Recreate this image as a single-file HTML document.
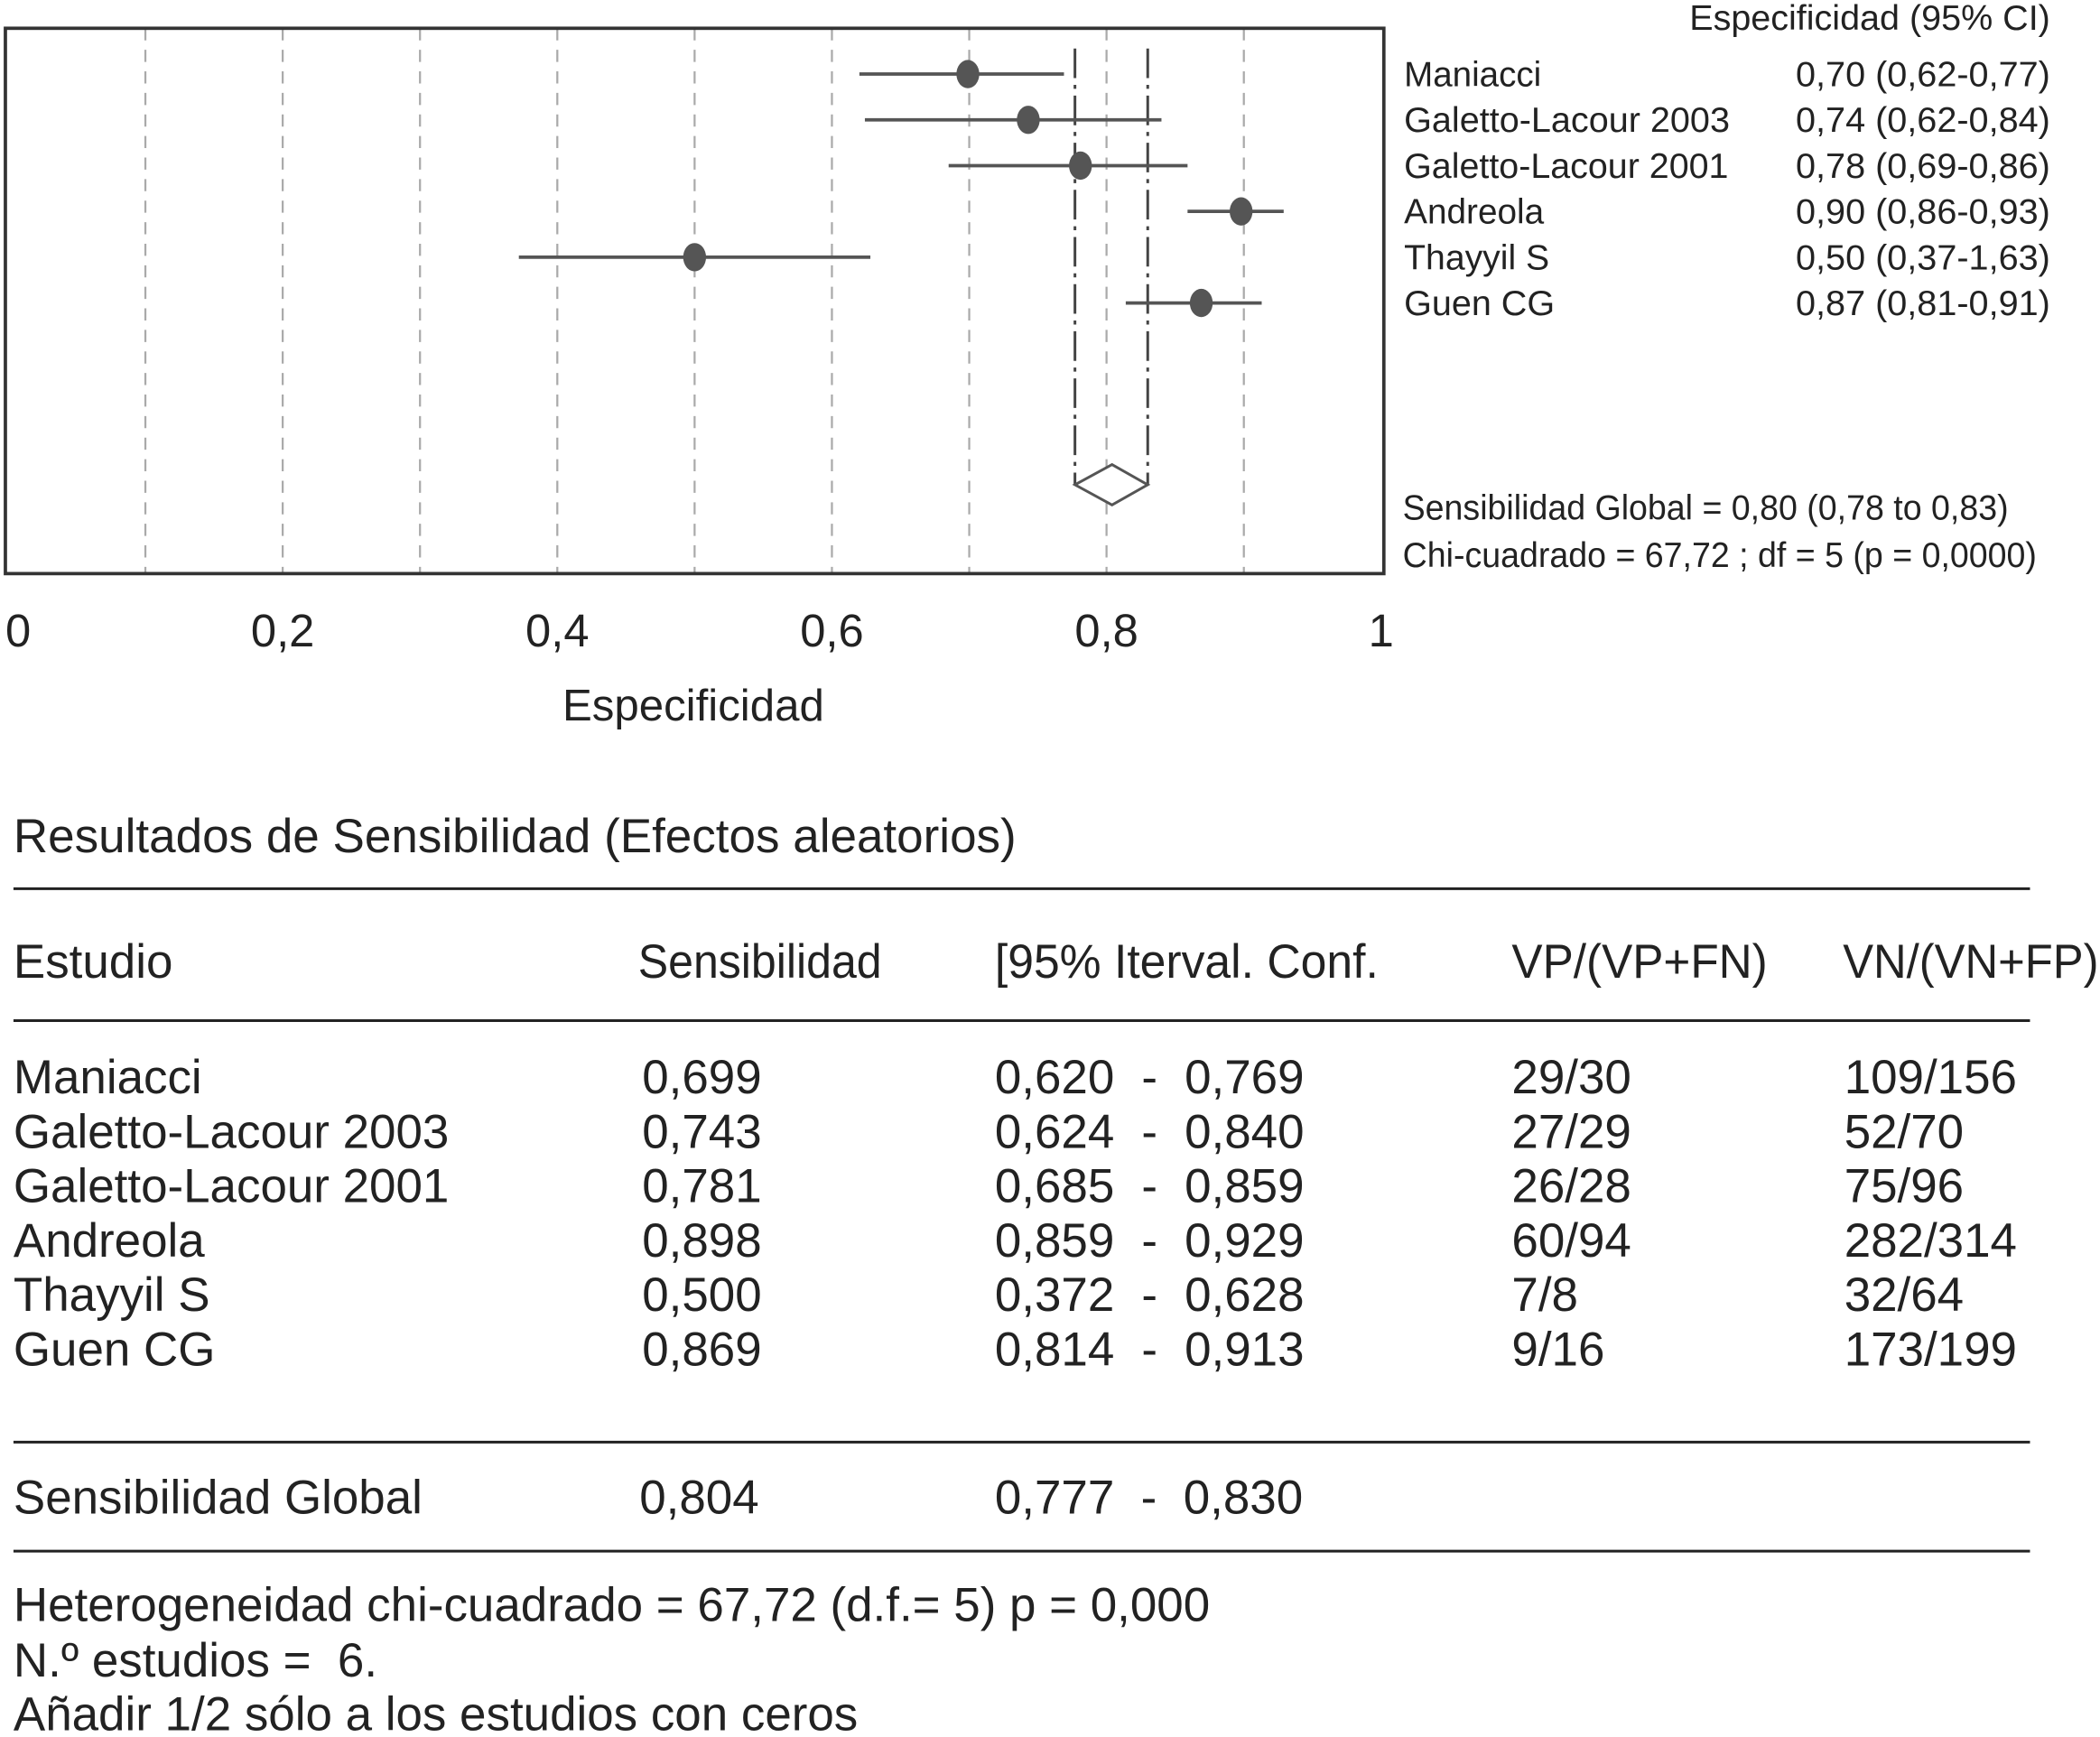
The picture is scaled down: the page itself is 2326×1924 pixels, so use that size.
<!DOCTYPE html>
<html><head><meta charset="utf-8"><style>
html,body{margin:0;padding:0;background:#fff;}
svg{display:block;}
text{font-family:"Liberation Sans",Arial,sans-serif;fill:#222;}
</style></head><body>
<svg id="chart" width="2326" height="1924" viewBox="0 0 1560 1290" preserveAspectRatio="none" xmlns="http://www.w3.org/2000/svg">
<g id="plot"></g>
<g id="legend" font-size="26">
<text x="1523" y="22" text-anchor="end" textLength="268" lengthAdjust="spacingAndGlyphs">Especificidad (95% CI)</text>
<text x="1042" y="386" textLength="450" lengthAdjust="spacingAndGlyphs">Sensibilidad Global = 0,80 (0,78 to 0,83)</text>
<text x="1042" y="421" textLength="471" lengthAdjust="spacingAndGlyphs">Chi-cuadrado = 67,72 ; df = 5 (p = 0,0000)</text>
</g>
<text x="515" y="535" font-size="33" text-anchor="middle">Especificidad</text>
<g id="table" font-size="35.5">
<text x="10" y="633" textLength="745" lengthAdjust="spacingAndGlyphs">Resultados de Sensibilidad (Efectos aleatorios)</text>
<line x1="10" y1="660" x2="1508" y2="660" stroke="#222" stroke-width="2"/>
<text x="10" y="726">Estudio</text>
<text x="474" y="726" textLength="181" lengthAdjust="spacingAndGlyphs">Sensibilidad</text>
<text x="739" y="726" textLength="285" lengthAdjust="spacingAndGlyphs">[95%  Iterval. Conf.</text>
<text x="1123" y="726" textLength="190" lengthAdjust="spacingAndGlyphs">VP/(VP+FN)</text>
<text x="1369" y="726" textLength="190" lengthAdjust="spacingAndGlyphs">VN/(VN+FP)</text>
<line x1="10" y1="758" x2="1508" y2="758" stroke="#222" stroke-width="2"/>
<g id="rows"></g>
<line x1="10" y1="1071" x2="1508" y2="1071" stroke="#222" stroke-width="2"/>
<text x="10" y="1124">Sensibilidad Global</text>
<text x="475" y="1124">0,804</text>
<text x="739" y="1124" xml:space="preserve">0,777  -  0,830</text>
<line x1="10" y1="1152" x2="1508" y2="1152" stroke="#222" stroke-width="2"/>
<text x="10" y="1204">Heterogeneidad chi-cuadrado = 67,72 (d.f.= 5) p = 0,000</text>
<text x="10" y="1245" xml:space="preserve">N.º estudios =  6.</text>
<text x="10" y="1285">Añadir 1/2 sólo a los estudios con ceros</text>
</g>
</svg>
<script>
const studies=["Maniacci","Galetto-Lacour 2003","Galetto-Lacour 2001","Andreola","Thayyil S","Guen CG"];
const estimates=[0.699,0.743,0.781,0.898,0.500,0.869];
const lowers=[0.620,0.624,0.685,0.859,0.372,0.814];
const uppers=[0.769,0.840,0.859,0.929,0.628,0.913];
const ciLabels=["0,70 (0,62-0,77)","0,74 (0,62-0,84)","0,78 (0,69-0,86)","0,90 (0,86-0,93)","0,50 (0,37-1,63)","0,87 (0,81-0,91)"];
const sensText=["0,699","0,743","0,781","0,898","0,500","0,869"];
const loText=["0,620","0,624","0,685","0,859","0,372","0,814"];
const hiText=["0,769","0,840","0,859","0,929","0,628","0,913"];
const vpText=["29/30","27/29","26/28","60/94","7/8","9/16"];
const vnText=["109/156","52/70","75/96","282/314","32/64","173/199"];
const pooled=[0.804,0.777,0.830];
const xTicks=[0,0.2,0.4,0.6,0.8,1];
const xTickLabels=["0","0,2","0,4","0,6","0,8","1"];
const gridVals=[0.1,0.2,0.3,0.4,0.5,0.6,0.7,0.8,0.9];
const nameWidths=[102,242,241,104,108,112];

const NS="http://www.w3.org/2000/svg";
const X0=6,X1=1026,TOP=21,BOT=426;
const sx=v=>X0+(X1-X0)*v;
const rowY=i=>55+i*34;
function mk(tag,attrs,parent){const e=document.createElementNS(NS,tag);for(const k in attrs)e.setAttribute(k,attrs[k]);parent.appendChild(e);return e;}
const plot=document.getElementById('plot');
gridVals.forEach(v=>{
  const l=mk('line',{x1:sx(v),x2:sx(v),y1:TOP,y2:BOT,stroke:'#aaa','stroke-width':1.5,'stroke-dasharray':'9,7'},plot);
  
  
});
const box=mk('rect',{x:4,y:TOP,width:1024,height:BOT-TOP,fill:'none',stroke:'#333','stroke-width':2.5},plot);


[pooled[1],pooled[2]].forEach(v=>{
  const l=mk('line',{x1:sx(v),x2:sx(v),y1:36,y2:360,stroke:'#444','stroke-width':2,'stroke-dasharray':'22,5,3,5'},plot);
  
  
});
const dy=360;
const dm=mk('polygon',{points:`${sx(pooled[1])},${dy} ${sx(pooled[0])},${dy-15} ${sx(pooled[2])},${dy} ${sx(pooled[0])},${dy+15}`,fill:'#fff',stroke:'#555','stroke-width':2},plot);


const legend=document.getElementById('legend');
studies.forEach((s,i)=>{
  const y=rowY(i);
  const l=mk('line',{x1:sx(lowers[i]),x2:sx(uppers[i]),y1:y,y2:y,stroke:'#555','stroke-width':2.5},plot);
  
  
  const cx=sx(estimates[i]);
  const p=mk('ellipse',{cx:cx,cy:y,rx:8.5,ry:10.5,fill:'#555'},plot);
  
  
  const t=mk('text',{x:1043,y:y+9,textLength:nameWidths[i],lengthAdjust:'spacingAndGlyphs'},legend);t.textContent=s;
  
  
  const c=mk('text',{x:1523,y:y+9,'text-anchor':'end',textLength:189,lengthAdjust:'spacingAndGlyphs'},legend);c.textContent=ciLabels[i];
  
  
});
xTicks.forEach((v,i)=>{
  const t=mk('text',{x:sx(v)+(i===0?-2:0),y:480,'font-size':34,'text-anchor':i===0?'start':'middle'},plot);
  t.textContent=xTickLabels[i];
  
  
});
const rows=document.getElementById('rows');
studies.forEach((s,i)=>{
  const y=812+i*40.4;
  const g=mk('g',{},rows);
  
  
  [[10,s],[477,sensText[i]],[739,loText[i]],[848,'-'],[880,hiText[i]],[1123,vpText[i]],[1370,vnText[i]]].forEach(([x,txt])=>{
    const t=mk('text',{x:x,y:y},g);t.textContent=txt;
    
    
  });
});
</script>
</body></html>
